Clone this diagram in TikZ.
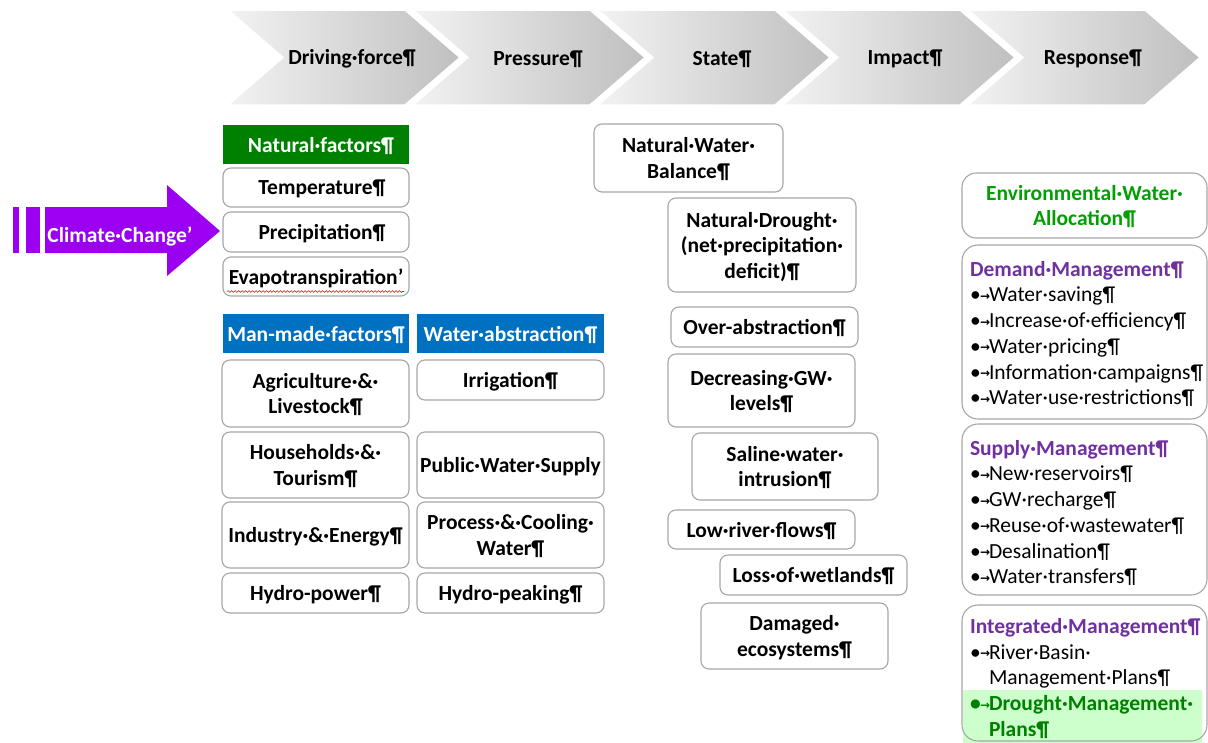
\documentclass[tikz,border=0pt]{standalone}
\usepackage{fontspec}
\setmainfont{Carlito}
\newfontfamily\djv{DejaVu Sans}
\usetikzlibrary{decorations.pathmorphing}
\definecolor{boxgray}{HTML}{A6A6A6}
\definecolor{natgreen}{HTML}{008000}
\definecolor{mmblue}{HTML}{0070C0}
\definecolor{mgmtpurple}{HTML}{7030A0}
\definecolor{ccpurple}{HTML}{9B00F0}
\definecolor{envgreen}{HTML}{00A000}
\definecolor{dmpgreen}{HTML}{008000}
\definecolor{hlgreen}{HTML}{CCFFCC}
\newcommand\tabarr{\raisebox{1.5pt}{\djv\fontsize{12}{12}\selectfont\bfseries →}}
\newcommand\bitem{\makebox[19pt][l]{•\kern-0.5pt\tabarr}}
\begin{document}
\begin{tikzpicture}[x=1pt,y=-1pt,
 every node/.style={font=\fontsize{21.5}{25.75}\selectfont},
 box/.style={draw=boxgray, line width=1.1pt, rounded corners=8pt, fill=white, align=center, inner sep=2pt, text depth=0pt, font=\fontsize{21.5}{25.5}\selectfont\bfseries},
 hdr/.style={fill=#1, text=white, align=center, inner sep=2pt, text depth=0pt, font=\fontsize{21.5}{25.5}\selectfont\bfseries},
 rbox/.style={draw=boxgray, line width=1.1pt, rounded corners=16pt, text width=229pt, inner xsep=8pt, inner ysep=0pt, align=left},
 chev/.style={left color=gray!10, right color=gray!50, draw=white, line width=1.5pt},
 chevlabel/.style={font=\fontsize{21.5}{25.5}\selectfont\bfseries},
]
\useasboundingbox (0,0) rectangle (1208,742);
% chevrons
\foreach \x in {228,413,598,783,968}
  \path[chev] (\x,10) -- (\x+177,10) -- (\x+232,57.5) -- (\x+177,105) -- (\x,105) -- (\x+55,57.5) -- cycle;
\node[chevlabel] (lD) at (352,59) {Driving·force¶};
\node[chevlabel] (lP) at (538,59) {Pressure¶};
\node[chevlabel] (lS) at (722,59) {State¶};
\node[chevlabel] (lI) at (905,59) {Impact¶};
\node[chevlabel] (lR) at (1093,59) {Response¶};
% climate change arrow
\fill[ccpurple] (13,207) rectangle (19,253);
\fill[ccpurple] (26,207) rectangle (40,253);
\fill[ccpurple] (45,207) -- (167,207) -- (167,185) -- (220,231) -- (167,276) -- (167,253) -- (45,253) -- cycle;
\node[text=white, font=\fontsize{21.5}{25.5}\selectfont\bfseries] (cc) at (120,236) {Climate·Change'};
% driving force column
\node[hdr=natgreen, minimum width=186pt, minimum height=39pt] (nat) at (316,144.5) {\hspace*{10pt}Natural·factors¶};
\node[box, minimum width=186pt, minimum height=39pt] (temp) at (316,187.5) {\hspace*{12pt}Temperature¶};
\node[box, minimum width=186pt, minimum height=40pt] (prec) at (316,232) {\hspace*{12pt}Precipitation¶};
\node[box, minimum width=186pt, minimum height=39pt] (evap) at (316,276.5) {Evapotranspiration'};
\draw[red, line width=0.6pt, decorate, decoration={snake, amplitude=0.9pt, segment length=3.5pt}] (227,291.5) -- (404,291.5);
\node[hdr=mmblue, minimum width=186pt, minimum height=39pt] (man) at (316,333.5) {Man-made·factors¶};
\node[hdr=mmblue, minimum width=187pt, minimum height=39pt] (wab) at (510.5,333.5) {Water·abstraction¶};
\node[box, minimum width=187pt, minimum height=67pt] (agri) at (315.5,393.5) {Agriculture·\&·\\Livestock¶};
\node[box, minimum width=187pt, minimum height=40pt] (irr) at (510.5,380) {Irrigation¶};
\node[box, minimum width=187pt, minimum height=66pt] (hh) at (315.5,465) {Households·\&·\\Tourism¶};
\node[box, minimum width=187pt, minimum height=66pt] (pws) at (510.5,465) {Public·Water·Supply};
\node[box, minimum width=187pt, minimum height=66pt] (ind) at (315.5,535) {Industry·\&·Energy¶};
\node[box, minimum width=187pt, minimum height=66pt] (proc) at (510.5,535) {Process·\&·Cooling·\\Water¶};
\node[box, minimum width=187pt, minimum height=40pt] (hp) at (315.5,593) {Hydro-power¶};
\node[box, minimum width=187pt, minimum height=40pt] (hpk) at (510.5,593) {Hydro-peaking¶};
% state column
\node[box, minimum width=189pt, minimum height=68pt] (nwb) at (688.5,158) {Natural·Water·\\Balance¶};
\node[box, minimum width=188pt, minimum height=94pt] (nd) at (762,245) {Natural·Drought·\\(net·precipitation·\\deficit)¶};
\node[box, minimum width=187pt, minimum height=40pt] (oa) at (764.5,327) {Over-abstraction¶};
\node[box, minimum width=187pt, minimum height=73pt] (dgw) at (761.5,390.5) {Decreasing·GW·\\levels¶};
\node[box, minimum width=186pt, minimum height=67pt] (sal) at (785,466.5) {Saline·water·\\intrusion¶};
\node[box, minimum width=187pt, minimum height=39pt] (lrf) at (761.5,529.5) {Low·river·flows¶};
\node[box, minimum width=187pt, minimum height=40pt] (wet) at (813.5,575) {Loss·of·wetlands¶};
\node[box, minimum width=187pt, minimum height=66pt] (dam) at (794.5,636) {Damaged·\\ecosystems¶};
% response column
\node[box, rounded corners=14pt, minimum width=245pt, minimum height=65pt, text=envgreen] (ewa) at (1084.5,205.5) {Environmental·Water·\\Allocation¶};
\node[rbox, minimum height=174pt] (dem) at (1084.5,332) {\rule{0pt}{19pt}{\color{mgmtpurple}\bfseries Demand·Management¶}\\
\bitem Water·saving¶\\
\bitem Increase·of·efficiency¶\\
\bitem Water·pricing¶\\
\bitem Information·campaigns¶\\
\bitem Water·use·restrictions¶};
\node[rbox, minimum height=171pt] (sup) at (1084.5,509.5) {\rule{0pt}{22pt}{\color{mgmtpurple}\bfseries Supply·Management¶}\\
\bitem New·reservoirs¶\\
\bitem GW·recharge¶\\
\bitem Reuse·of·wastewater¶\\
\bitem Desalination¶\\
\bitem Water·transfers¶};
\fill[hlgreen] (963,690) rectangle (1202,746);
\node[rbox, minimum height=136pt] (int) at (1084.5,673) {\rule{0pt}{26pt}{\color{mgmtpurple}\bfseries Integrated·Management¶}\\
\bitem River·Basin·\\
\hspace*{19pt}Management·Plans¶\\
{\color{dmpgreen}\bfseries\bitem Drought·Management·}\\
{\color{dmpgreen}\bfseries\hspace*{19pt}Plans¶}};
\end{tikzpicture}
\end{document}
